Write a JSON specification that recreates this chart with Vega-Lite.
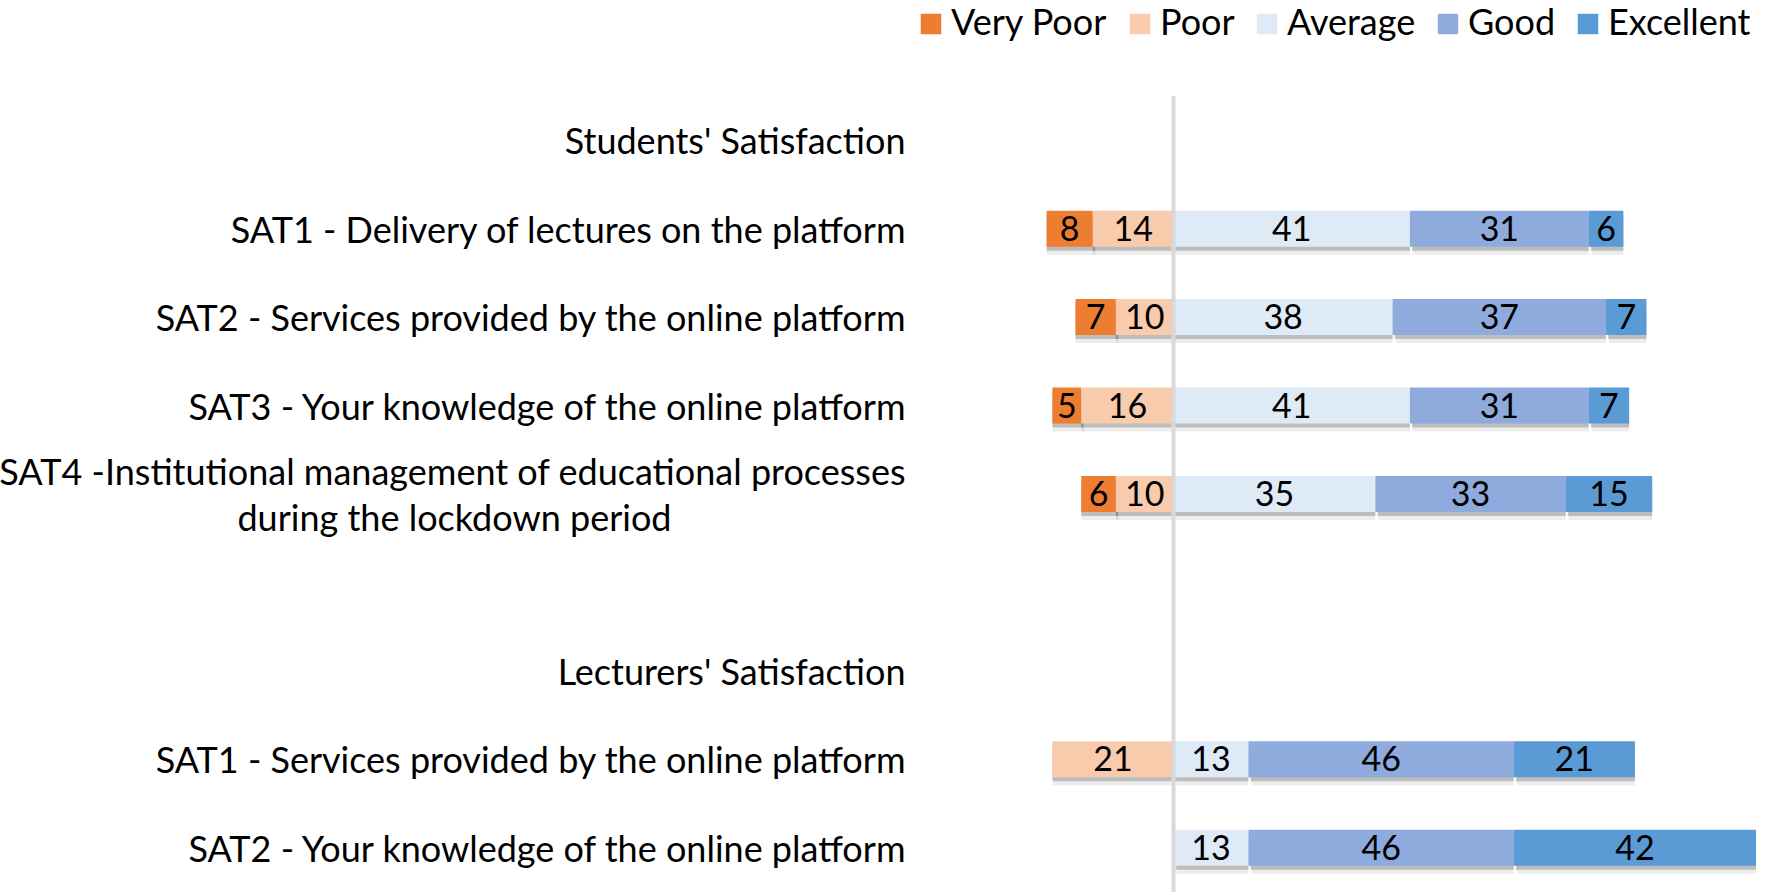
{
  "$schema": "https://vega.github.io/schema/vega-lite/v6.json",
  "autosize": {"type": "none"},
  "padding": {"left": 914, "top": 96, "right": 12, "bottom": 0},
  "width": 842,
  "height": 796,
  "config": {"view": {"stroke": null}, "font": "Lato"},
  "data": {"values": [
    {"item": "SAT1 - Delivery of lectures on the platform", "rating": "Very Poor", "value": 8},
    {"item": "SAT1 - Delivery of lectures on the platform", "rating": "Poor", "value": 14},
    {"item": "SAT1 - Delivery of lectures on the platform", "rating": "Average", "value": 41},
    {"item": "SAT1 - Delivery of lectures on the platform", "rating": "Good", "value": 31},
    {"item": "SAT1 - Delivery of lectures on the platform", "rating": "Excellent", "value": 6},
    {"item": "SAT2 - Services provided by the online platform", "rating": "Very Poor", "value": 7},
    {"item": "SAT2 - Services provided by the online platform", "rating": "Poor", "value": 10},
    {"item": "SAT2 - Services provided by the online platform", "rating": "Average", "value": 38},
    {"item": "SAT2 - Services provided by the online platform", "rating": "Good", "value": 37},
    {"item": "SAT2 - Services provided by the online platform", "rating": "Excellent", "value": 7},
    {"item": "SAT3 - Your knowledge of the online platform", "rating": "Very Poor", "value": 5},
    {"item": "SAT3 - Your knowledge of the online platform", "rating": "Poor", "value": 16},
    {"item": "SAT3 - Your knowledge of the online platform", "rating": "Average", "value": 41},
    {"item": "SAT3 - Your knowledge of the online platform", "rating": "Good", "value": 31},
    {"item": "SAT3 - Your knowledge of the online platform", "rating": "Excellent", "value": 7},
    {"item": "SAT4 -Institutional management of educational processes|during the lockdown period", "rating": "Very Poor", "value": 6},
    {"item": "SAT4 -Institutional management of educational processes|during the lockdown period", "rating": "Poor", "value": 10},
    {"item": "SAT4 -Institutional management of educational processes|during the lockdown period", "rating": "Average", "value": 35},
    {"item": "SAT4 -Institutional management of educational processes|during the lockdown period", "rating": "Good", "value": 33},
    {"item": "SAT4 -Institutional management of educational processes|during the lockdown period", "rating": "Excellent", "value": 15},
    {"item": "SAT1 - Services provided by the online platform", "rating": "Poor", "value": 21},
    {"item": "SAT1 - Services provided by the online platform", "rating": "Average", "value": 13},
    {"item": "SAT1 - Services provided by the online platform", "rating": "Good", "value": 46},
    {"item": "SAT1 - Services provided by the online platform", "rating": "Excellent", "value": 21},
    {"item": "SAT2 - Your knowledge of the online platform", "rating": "Average", "value": 13},
    {"item": "SAT2 - Your knowledge of the online platform", "rating": "Good", "value": 46},
    {"item": "SAT2 - Your knowledge of the online platform", "rating": "Excellent", "value": 42}
  ]},
  "layer": [
    {
      "transform": [
        {"calculate": "indexof(['Poor','Very Poor','Average','Good','Excellent'], datum.rating)", "as": "ord"},
        {"calculate": "(datum.rating == 'Very Poor' || datum.rating == 'Poor') ? -datum.value : datum.value", "as": "signed"},
        {"stack": "signed", "groupby": ["item"], "sort": [{"field": "ord", "order": "ascending"}], "as": ["x0", "x1"]},
        {"calculate": "(datum.x0 + datum.x1) / 2", "as": "xm"}
      ],
      "encoding": {
        "y": {
          "field": "item",
          "type": "nominal",
          "scale": {
            "domain": [
              "Students' Satisfaction",
              "SAT1 - Delivery of lectures on the platform",
              "SAT2 - Services provided by the online platform",
              "SAT3 - Your knowledge of the online platform",
              "SAT4 -Institutional management of educational processes|during the lockdown period",
              " ",
              "Lecturers' Satisfaction",
              "SAT1 - Services provided by the online platform",
              "SAT2 - Your knowledge of the online platform"
            ],
            "paddingInner": 0.593,
            "paddingOuter": 0.2965
          },
          "axis": {
            "title": null,
            "domain": false,
            "ticks": false,
            "grid": false,
            "labelFont": "Lato",
            "labelFontSize": 36,
            "labelColor": "#000000",
            "labelPadding": 9,
            "labelLimit": 2000,
            "labelOverlap": false,
            "labelLineHeight": 46,
            "labelOffset": {"condition": {"test": "indexof(datum.value, '|') >= 0", "value": -20}, "value": 3},
            "labelExpr": "indexof(datum.label, '|') >= 0 ? [split(datum.label, '|')[0], split(datum.label, '|')[1] + '\u2800\u2800\u2800\u2800\u2800\u2800\u2800\u2800\u2800'] : datum.label"
          }
        }
      },
      "layer": [
        {
          "mark": {"type": "bar", "color": "#000000", "opacity": 0.07, "yOffset": 8, "xOffset": 3},
          "encoding": {
            "x": {"field": "x0", "type": "quantitative", "scale": {"domain": [-45, 101], "nice": false, "zero": false}, "axis": null},
            "x2": {"field": "x1"}
          }
        },
        {
          "mark": {"type": "bar", "color": "#000000", "opacity": 0.2, "yOffset": 4, "xOffset": 2},
          "encoding": {
            "x": {"field": "x0", "type": "quantitative"},
            "x2": {"field": "x1"}
          }
        },
        {
          "mark": {"type": "bar"},
          "encoding": {
            "x": {"field": "x0", "type": "quantitative"},
            "x2": {"field": "x1"},
            "color": {
              "field": "rating",
              "type": "nominal",
              "scale": {
                "domain": ["Very Poor", "Poor", "Average", "Good", "Excellent"],
                "range": ["#ED7D31", "#F8CBAD", "#DEEBF7", "#8FAADC", "#5B9BD5"]
              },
              "legend": {
                "orient": "none",
                "legendX": -1,
                "legendY": -90,
                "direction": "horizontal",
                "title": null,
                "symbolType": "square",
                "symbolSize": 420,
                "symbolStrokeWidth": 0,
                "symbolOpacity": 1,
                "labelFont": "Lato",
                "labelFontSize": 36,
                "labelColor": "#000000",
                "labelOffset": 2,
                "columnPadding": 14,
                "labelLimit": 500
              }
            }
          }
        },
        {
          "mark": {"type": "text", "font": "Lato", "fontSize": 34, "color": "#000000", "align": "center", "baseline": "middle", "dy": 2},
          "encoding": {
            "x": {"field": "xm", "type": "quantitative"},
            "text": {"field": "value", "type": "quantitative"}
          }
        }
      ]
    },
    {
      "data": {"values": [{"zero": 0}]},
      "mark": {"type": "rule", "color": "#D9D9D9", "strokeWidth": 4},
      "encoding": {
        "x": {"field": "zero", "type": "quantitative"}
      }
    }
  ]
}
